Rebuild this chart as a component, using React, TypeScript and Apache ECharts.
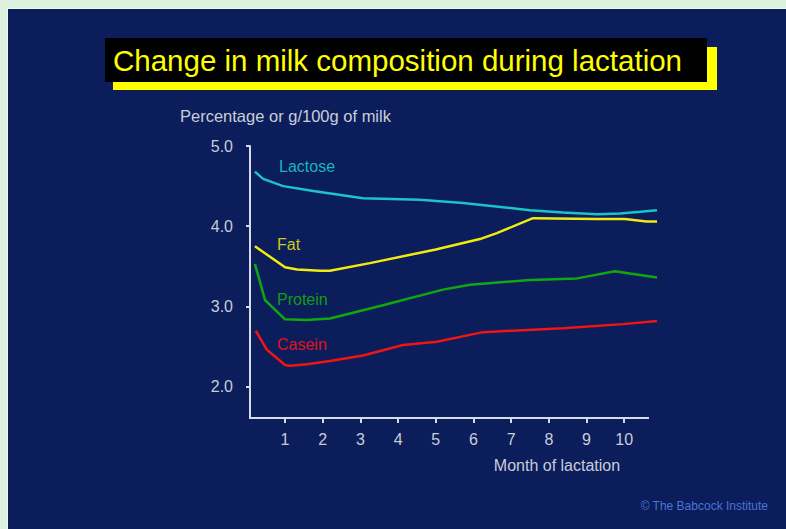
import React, { useEffect, useRef } from "react";
import * as echarts from "echarts";

const titleText = "Change in milk composition during lactation";
const yAxisTitle = "Percentage or g/100g of milk";
const xAxisTitle = "Month of lactation";
const credit = "© The Babcock Institute";

const xTickValues = [1, 2, 3, 4, 5, 6, 7, 8, 9, 10];
const yTickValues = [2, 3, 4, 5];

const seriesNames = ["Lactose", "Fat", "Protein", "Casein"];

const lactose = [
  [0.2, 4.68], [0.42, 4.59], [0.95, 4.5], [1.75, 4.44], [3.07, 4.35], [4.58, 4.33],
  [5.72, 4.29], [7.5, 4.2], [8.37, 4.17], [9.28, 4.15], [9.89, 4.16], [10.42, 4.18], [10.87, 4.2],
];
const fat = [
  [0.2, 3.75], [1.0, 3.49], [1.32, 3.46], [1.93, 3.445], [2.19, 3.445], [3.25, 3.54],
  [5.0, 3.71], [6.17, 3.84], [6.62, 3.915], [7.58, 4.1], [9.28, 4.09], [10.02, 4.09],
  [10.59, 4.06], [10.87, 4.06],
];
const protein = [
  [0.2, 3.53], [0.47, 3.08], [1.0, 2.84], [1.58, 2.83], [2.19, 2.85], [3.52, 3.005],
  [5.19, 3.21], [5.91, 3.27], [7.5, 3.33], [8.75, 3.35], [9.75, 3.44], [10.15, 3.41], [10.87, 3.36],
];
const casein = [
  [0.22, 2.7], [0.52, 2.46], [1.0, 2.27], [1.13, 2.26], [1.58, 2.28], [2.19, 2.32],
  [3.07, 2.39], [4.13, 2.52], [5.03, 2.56], [6.25, 2.68], [8.37, 2.73], [9.97, 2.78], [10.87, 2.82],
];

const lineColors = ["#1cc4c8", "#f0ec10", "#10a810", "#f01414"];
const labelColors = ["#19b5bd", "#cdc81c", "#139c13", "#e3101c"];

const FONT = '"Liberation Sans", Arial, sans-serif';

export default function App() {
  const ref = useRef<HTMLDivElement>(null);
  useEffect(() => {
    if (!ref.current) return;
    const chart = echarts.init(ref.current, null, { renderer: "svg" });
    const axisColor = "#d6dae6";
    const textColor = "#c9cdd9";
    const data = [lactose, fat, protein, casein];
    const labelPos = [
      [279, 166],
      [277, 244],
      [277, 299],
      [277, 344],
    ];
    chart.setOption({
      animation: false,
      backgroundColor: "#0b1d5a",
      grid: { left: 250, top: 146, width: 407, height: 272, containLabel: false },
      xAxis: {
        type: "value",
        min: 0.07,
        max: 10.87,
        splitLine: { show: false },
        axisLine: { show: false },
        axisTick: { show: true, customValues: xTickValues, length: 5, lineStyle: { color: axisColor, width: 2 } },
        axisLabel: {
          customValues: xTickValues,
          color: textColor,
          fontSize: 16,
          fontFamily: FONT,
          margin: 13,
        },
      },
      yAxis: {
        type: "value",
        min: 1.61,
        max: 5,
        splitLine: { show: false },
        axisLine: { show: true, lineStyle: { color: axisColor, width: 2 } },
        axisTick: { show: true, customValues: yTickValues, length: 4, lineStyle: { color: axisColor, width: 2 } },
        axisLabel: {
          customValues: yTickValues,
          color: textColor,
          fontSize: 16,
          fontFamily: FONT,
          margin: 17,
          formatter: (v: number) => v.toFixed(1),
        },
      },
      series: seriesNames.map((name, i) => ({
        name,
        type: "line",
        data: data[i],
        symbol: "none",
        showSymbol: false,
        lineStyle: { color: lineColors[i], width: 2.5 },
        z: 3,
      })),
      graphic: [
        { type: "rect", shape: { x: 0, y: 0, width: 786, height: 9 }, style: { fill: "#dcf2de" } },
        { type: "rect", shape: { x: 0, y: 0, width: 8, height: 529 }, style: { fill: "#dcf2de" } },
        { type: "line", shape: { x1: 7.5, y1: 8.5, x2: 7.5, y2: 529 }, style: { stroke: "#f2faf2", lineWidth: 1 } },
        { type: "line", shape: { x1: 7.5, y1: 8.5, x2: 786, y2: 8.5 }, style: { stroke: "#f2faf2", lineWidth: 1 } },
        { type: "line", shape: { x1: 249, y1: 418, x2: 649, y2: 418 }, style: { stroke: axisColor, lineWidth: 2 } },
        { type: "rect", shape: { x: 113, y: 47, width: 604, height: 43 }, style: { fill: "#ffff00" } },
        { type: "rect", shape: { x: 105, y: 38, width: 602, height: 44 }, style: { fill: "#000000" } },
        {
          type: "text",
          x: 113,
          y: 60,
          style: {
            text: titleText,
            fill: "#ffff00",
            fontSize: 29.5,
            fontFamily: FONT,
            align: "left",
            verticalAlign: "middle",
          },
        },
        {
          type: "text",
          x: 180,
          y: 116,
          style: {
            text: yAxisTitle,
            fill: textColor,
            fontSize: 16.5,
            fontFamily: FONT,
            align: "left",
            verticalAlign: "middle",
          },
        },
        {
          type: "text",
          x: 557,
          y: 465,
          style: {
            text: xAxisTitle,
            fill: textColor,
            fontSize: 16,
            fontFamily: FONT,
            align: "center",
            verticalAlign: "middle",
          },
        },
        {
          type: "text",
          x: 768,
          y: 506,
          style: {
            text: credit,
            fill: "#4d73d9",
            fontSize: 12,
            fontFamily: FONT,
            align: "right",
            verticalAlign: "middle",
          },
        },
        ...seriesNames.map((name, i) => ({
          type: "text",
          x: labelPos[i][0],
          y: labelPos[i][1],
          style: {
            text: name,
            fill: labelColors[i],
            fontSize: 16,
            fontFamily: FONT,
            align: "left",
            verticalAlign: "middle",
          },
        })),
      ],
    });
    return () => chart.dispose();
  }, []);
  return (
    <div
      ref={ref}
      style={{ position: "absolute", left: 0, top: 0, width: 786, height: 529 }}
    />
  );
}
